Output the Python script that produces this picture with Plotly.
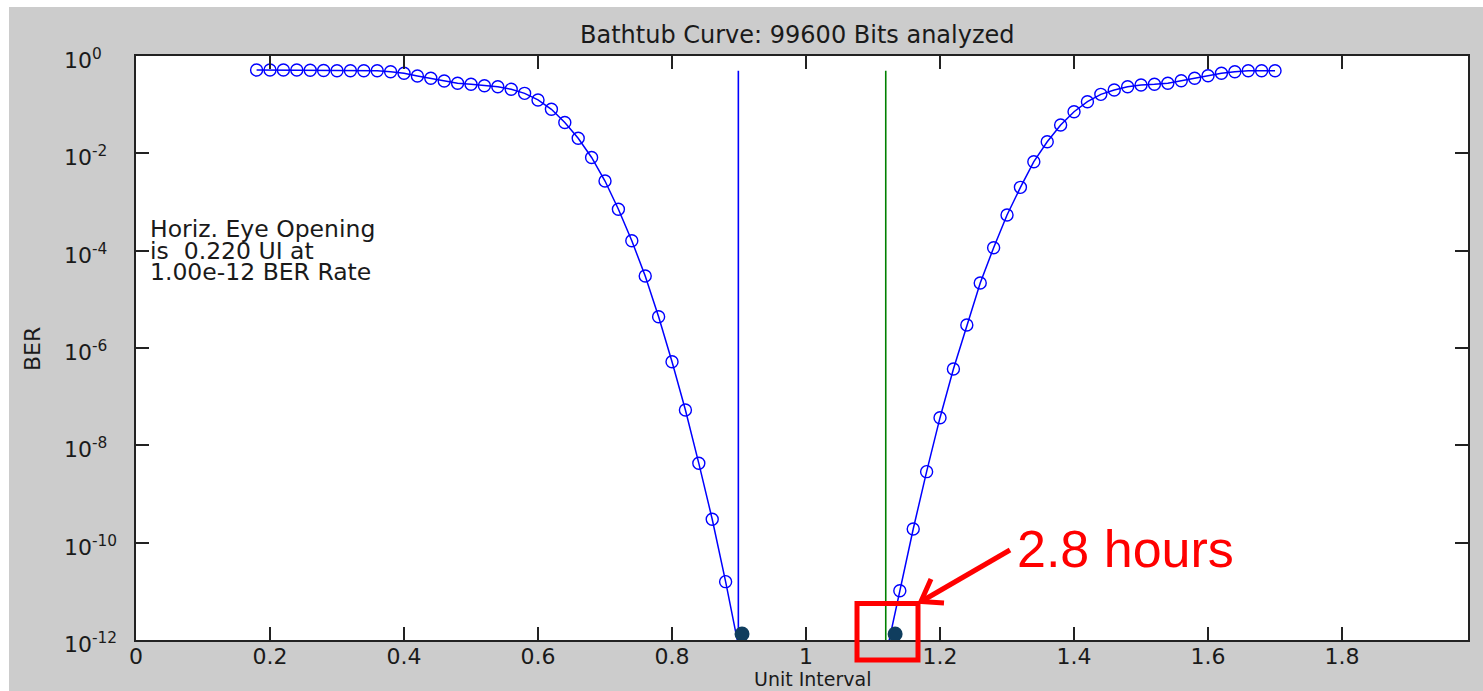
import plotly.graph_objects as go

# ---------------- data ----------------
left_ui = [0.18, 0.20, 0.22, 0.24, 0.26, 0.28, 0.30, 0.32, 0.34, 0.36,
           0.38, 0.40, 0.42, 0.44, 0.46, 0.48, 0.50, 0.52, 0.54, 0.56,
           0.58, 0.60, 0.62, 0.64, 0.66, 0.68, 0.70, 0.72, 0.74, 0.76,
           0.78, 0.80, 0.82, 0.84, 0.86, 0.88, 0.90]
left_ber = [5.15e-1, 5.15e-1, 5.15e-1, 5.15e-1, 5.1e-1, 5.05e-1, 4.99e-1, 4.99e-1, 4.99e-1, 4.99e-1,
            4.76e-1, 4.41e-1, 3.88e-1, 3.48e-1, 3.06e-1, 2.75e-1, 2.62e-1, 2.45e-1, 2.34e-1, 2.07e-1,
            1.71e-1, 1.25e-1, 8.03e-2, 4.30e-2, 2.04e-2, 8.22e-3, 2.70e-3, 7.09e-4, 1.60e-4, 3.02e-5,
            4.40e-6, 5.23e-7, 5.32e-8, 4.27e-9, 3.03e-10, 1.58e-11, 6.6e-13]

right_ui = [1.12, 1.14, 1.16, 1.18, 1.20, 1.22, 1.24, 1.26, 1.28, 1.30,
            1.32, 1.34, 1.36, 1.38, 1.40, 1.42, 1.44, 1.46, 1.48, 1.50,
            1.52, 1.54, 1.56, 1.58, 1.60, 1.62, 1.64, 1.66, 1.68, 1.70]
right_ber = [5.4e-13, 1.03e-11, 1.91e-10, 2.88e-9, 3.70e-8, 3.71e-7, 2.97e-6, 2.17e-5, 1.15e-4, 5.41e-4,
             2.00e-3, 6.73e-3, 1.73e-2, 3.82e-2, 7.17e-2, 1.15e-1, 1.63e-1, 2.00e-1, 2.34e-1, 2.54e-1,
             2.62e-1, 2.75e-1, 3.11e-1, 3.48e-1, 3.94e-1, 4.41e-1, 4.76e-1, 4.99e-1, 4.99e-1, 4.99e-1]

eye_left_ui = 0.899
eye_right_ui = 1.119
eye_line_ber = [1e-12, 0.5]

dot_ui = [0.9045, 1.133]
dot_ber = [1.33e-12, 1.33e-12]

x_ticks = [0, 0.2, 0.4, 0.6, 0.8, 1.0, 1.2, 1.4, 1.6, 1.8]
x_tick_text = ["0", "0.2", "0.4", "0.6", "0.8", "1", "1.2", "1.4", "1.6", "1.8"]
y_tick_exp = [0, -2, -4, -6, -8, -10, -12]

title_text = "Bathtub Curve: 99600 Bits analyzed"
eye_text = ["Horiz. Eye Opening", "is\u00a0 0.220 UI at", "1.00e-12 BER Rate"]
hours_text = "2.8 hours"

# ---------------- layout geometry ----------------
W, H = 1483, 691
ML, MR, MT, MB = 136, 15, 56, 51
PW, PH = W - ML - MR, H - MT - MB


def px(xp):
    return (xp - ML) / PW


def py(yp):
    return (H - MB - yp) / PH


FONT = "DejaVu Sans"
TXT = "#1a1a1a"
AX = "#222222"
BLUE = "#0000ff"
GREEN = "#008000"
RED = "#ff0000"
GRAY = "#cccccc"

fig = go.Figure()

fig.add_trace(go.Scatter(x=[eye_left_ui, eye_left_ui], y=eye_line_ber, mode="lines",
                         line=dict(color=BLUE, width=1.6), showlegend=False, hoverinfo="skip"))
fig.add_trace(go.Scatter(x=[eye_right_ui, eye_right_ui], y=eye_line_ber, mode="lines",
                         line=dict(color=GREEN, width=1.6), showlegend=False, hoverinfo="skip"))

for xs, ys in ((left_ui, left_ber), (right_ui, right_ber)):
    fig.add_trace(go.Scatter(x=xs, y=ys, mode="lines+markers",
                             line=dict(color=BLUE, width=1.5),
                             marker=dict(symbol="circle-open", size=12, color=BLUE,
                                         line=dict(color=BLUE, width=1.4)),
                             showlegend=False))

fig.add_trace(go.Scatter(x=dot_ui, y=dot_ber, mode="markers", cliponaxis=False,
                         marker=dict(size=15, color="#0f3d5e"), showlegend=False))

annotations = []
for e in y_tick_exp:
    annotations.append(dict(xref="paper", yref="y", x=px(62), y=e, xanchor="left", yanchor="middle",
                            text="10<sup>%d</sup>" % e, showarrow=False, yshift=-3,
                            font=dict(family=FONT, size=22, color=TXT)))

annotations.append(dict(xref="paper", yref="paper", x=px(797), y=py(35), text=title_text,
                        showarrow=False, xanchor="center", yanchor="middle",
                        font=dict(family=FONT, size=24, color=TXT)))
annotations.append(dict(xref="paper", yref="paper", x=px(813), y=py(679), text="Unit Interval",
                        showarrow=False, xanchor="center", yanchor="middle",
                        font=dict(family=FONT, size=19, color=TXT)))
annotations.append(dict(xref="paper", yref="paper", x=px(32), y=py(349), text="BER", textangle=-90,
                        showarrow=False, xanchor="center", yanchor="middle",
                        font=dict(family=FONT, size=22, color=TXT)))
for i, line in enumerate(eye_text):
    annotations.append(dict(xref="paper", yref="paper", x=px(148), y=py(229 + 21.7 * i), text=line,
                            showarrow=False, xanchor="left", yanchor="middle",
                            font=dict(family=FONT, size=23.5, color=TXT)))
annotations.append(dict(xref="paper", yref="paper", x=px(1125), y=py(549), text=hours_text,
                        showarrow=False, xanchor="center", yanchor="middle",
                        font=dict(family="Liberation Sans", size=52, color=RED)))

shapes = [
    # white strips around the grey figure background
    dict(type="rect", xref="paper", yref="paper", x0=px(-2), x1=px(9), y0=py(H + 2), y1=py(-2),
         fillcolor="white", line=dict(width=0), layer="above"),
    dict(type="rect", xref="paper", yref="paper", x0=px(-2), x1=px(W + 2), y0=py(7), y1=py(-2),
         fillcolor="white", line=dict(width=0), layer="above"),
    # red highlight box
    dict(type="rect", xref="paper", yref="paper", x0=px(857), x1=px(918), y0=py(660), y1=py(603.5),
         line=dict(color=RED, width=5), fillcolor="rgba(0,0,0,0)", layer="above"),
    # red arrow shaft and open head
    dict(type="line", xref="paper", yref="paper", x0=px(1010), y0=py(550), x1=px(922), y1=py(601),
         line=dict(color=RED, width=5), layer="above"),
    dict(type="path", xref="paper", yref="paper",
         path="M %f %f L %f %f L %f %f" % (px(944), py(603), px(921), py(601.5), px(931), py(579)),
         line=dict(color=RED, width=5), layer="above"),
]

axis_common = dict(showgrid=False, zeroline=False, showline=True, linecolor=AX, linewidth=1.5,
                   mirror="ticks", ticks="inside", ticklen=13, tickwidth=1.5, tickcolor=AX)

fig.update_layout(
    width=W, height=H,
    margin=dict(l=ML, r=MR, t=MT, b=MB, pad=0),
    paper_bgcolor=GRAY, plot_bgcolor="white",
    showlegend=False,
    xaxis=dict(range=[0, 1.988], tickvals=x_ticks, ticktext=x_tick_text, ticklabelstandoff=-4,
               tickfont=dict(family=FONT, size=22, color=TXT), **axis_common),
    yaxis=dict(type="log", range=[-12, 0], tickvals=[10.0 ** e for e in y_tick_exp],
               showticklabels=False, **axis_common),
    annotations=annotations,
    shapes=shapes,
)

fig.write_html("out.html")
